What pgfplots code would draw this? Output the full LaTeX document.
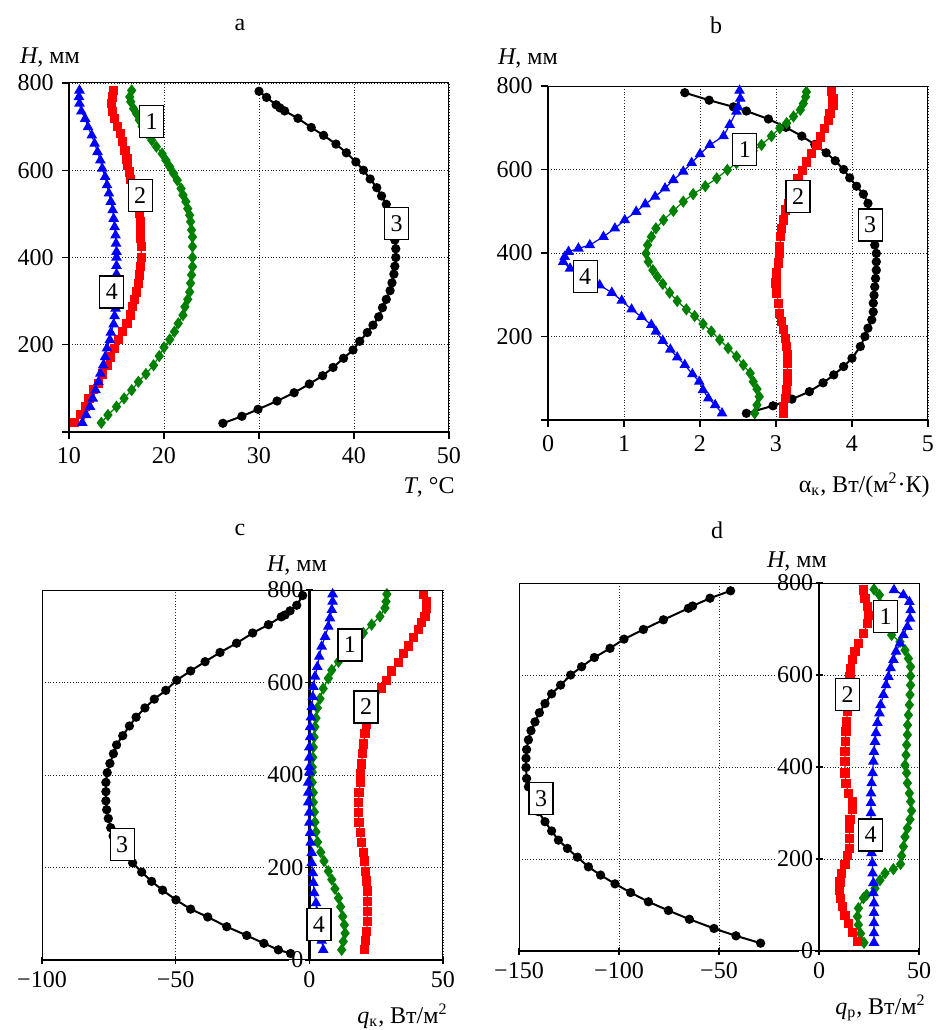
\documentclass[border=0pt,12pt]{standalone}
\usepackage{fontspec}
\setmainfont{Liberation Serif}
\usepackage{pgfplots}
\pgfplotsset{compat=1.18}

\definecolor{cgreen}{RGB}{0,128,0}

\pgfplotsset{
  panel/.style={
    scale only axis, clip=false, anchor=south west,
    ymin=0, ymax=800, ytick={0,200,...,800},
    grid=major, grid style={densely dotted, black!85, line width=0.45pt},
    tick align=outside, major tick length=3.5pt,
    tick style={black, line width=0.6pt},
    /pgf/number format/assume math mode=true,
  },
  boxpanel/.style={panel, tick pos=left, axis line style={line width=0.5pt},
    yticklabels={,200,400,600,800}},
  midpanel/.style={panel, axis lines=middle, axis line style={-, line width=1.3pt},
    hide obscured x ticks=false, hide obscured y ticks=false,
    yticklabel style={fill=white, inner sep=1pt},
    extra x ticks={0}, extra x tick labels={},
    extra x tick style={grid=major, grid style={solid, black, line width=1.3pt}}},
  s1/.style={cgreen, line width=0.6pt, mark=diamond*, mark size=2.6pt},
  s2/.style={red, line width=0.6pt, mark=square*, mark size=2.0pt},
  s3/.style={black, line width=1pt, mark=*, mark size=1.8pt},
  s4/.style={blue, line width=0.6pt, mark=triangle*, mark size=2.5pt},
}
\tikzset{lab/.style={draw, fill=white, line width=0.6pt, inner sep=1.5pt,
  minimum height=16pt, minimum width=12pt}}

\begin{document}
\begin{tikzpicture}
\path[use as bounding box] (0,0) rectangle (471.5pt,515pt);

% ---------- a ----------
\begin{axis}[boxpanel, name=pa, at={(34.5pt,299pt)}, width=190pt, height=174.5pt,
  xmin=10, xmax=50, xtick={10,20,...,50}]
\addplot[s3] coordinates {(26.2,20) (28.2,36) (29.9,52) (31.9,71) (33.7,90) (35.3,110) (36.7,129) (37.8,148) (38.9,169) (39.9,188) (40.6,208) (41.4,228) (42.0,245) (42.6,264) (43.0,285) (43.4,304) (43.8,324) (44.0,342) (44.2,362) (44.3,380) (44.4,400) (44.4,420) (44.3,440) (44.1,460) (44.0,480) (43.8,501) (43.4,522) (42.9,541) (42.4,560) (41.7,580) (41.0,600) (40.2,619) (39.2,640) (38.1,660) (36.8,680) (35.5,698) (34.1,719) (32.7,736) (32.2,743) (31.8,750) (30.8,767) (30.0,781)};
\addplot[s1] coordinates {(13.4,21) (14.1,39) (15.0,58) (15.8,77) (16.6,96) (17.3,115) (18.1,133) (18.9,153) (19.5,174) (20.0,194) (20.6,212) (21.1,230) (21.5,249) (22.0,268) (22.2,287) (22.5,304) (22.7,321) (22.8,341) (22.9,360) (23.0,379) (23.0,400) (23.0,425) (23.0,447) (22.9,463) (22.8,482) (22.7,497) (22.5,512) (22.3,528) (22.0,543) (21.8,558) (21.4,577) (21.0,593) (20.6,608) (20.2,623) (19.8,638) (19.2,654) (18.7,669) (18.2,685) (17.7,700) (17.4,715) (17.1,730) (16.8,741) (16.5,757) (16.4,768) (16.6,783)};
\addplot[s2] coordinates {(10.6,21) (11.2,40) (11.7,59) (12.1,77) (12.6,97) (13.1,112) (13.5,133) (14.0,153) (14.4,172) (14.8,191) (15.2,212) (15.65,230) (16.1,249) (16.5,268) (16.7,287) (16.9,304) (17.1,321) (17.3,341) (17.4,360) (17.5,380) (17.6,400) (17.6,425) (17.5,444) (17.5,463) (17.5,482) (17.4,501) (17.3,516) (17.0,540) (16.7,560) (16.5,578) (16.4,596) (16.2,611) (16.1,626) (15.9,646) (15.65,665) (15.4,684) (15.1,701) (14.8,718) (14.6,734) (14.5,753) (14.6,768) (14.67,783)};
\addplot[s4] coordinates {(11.4,21) (11.8,39) (12.2,58) (12.5,77) (12.8,96) (13.1,115) (13.3,134) (13.6,153) (13.8,172) (14.0,192) (14.3,211) (14.4,228) (14.7,247) (14.8,266) (14.9,283) (14.9,302) (14.9,320) (15.0,340) (15.0,362) (15.0,381) (15.0,400) (15.0,413) (14.95,432) (14.9,451) (14.8,470) (14.7,489) (14.6,509) (14.4,528) (14.2,547) (14.0,566) (13.8,585) (13.5,604) (13.3,623) (13.0,642) (12.7,661) (12.4,680) (12.0,699) (11.7,718) (11.3,735) (11.1,753) (11.05,768) (11.1,783)};
\coordinate (a1) at (axis cs:18.7,711);
\coordinate (a2) at (axis cs:17.5,543);
\coordinate (a3) at (axis cs:44.5,478);
\coordinate (a4) at (axis cs:14.5,321);
\end{axis}

% ---------- b ----------
\begin{axis}[boxpanel, name=pb, at={(274pt,305pt)}, width=190pt, height=167pt,
  xmin=0, xmax=5, xtick={0,1,...,5}]
\addplot[s3] coordinates {(2.61,16) (2.96,34) (3.21,50) (3.44,68) (3.62,89) (3.76,108) (3.89,128) (4.00,148) (4.11,176) (4.17,200) (4.21,220) (4.26,240) (4.28,259) (4.28,280) (4.29,299) (4.30,319) (4.31,339) (4.32,359) (4.32,379) (4.32,399) (4.30,419) (4.28,447) (4.27,465) (4.24,490) (4.21,519) (4.15,541) (4.06,560) (3.97,580) (3.89,600) (3.78,621) (3.66,640) (3.51,660) (3.34,680) (3.13,701) (2.90,721) (2.61,740) (2.44,750) (2.12,766) (1.80,784)};
\addplot[s1] coordinates {(2.72,16) (2.75,36) (2.78,56) (2.75,74) (2.70,92) (2.66,112) (2.57,132) (2.48,152) (2.37,172) (2.26,192) (2.15,212) (2.04,230) (1.93,249) (1.82,265) (1.70,285) (1.60,305) (1.51,326) (1.44,343) (1.38,359) (1.32,379) (1.29,399) (1.31,419) (1.36,439) (1.42,459) (1.52,479) (1.65,501) (1.78,523) (1.91,541) (2.07,560) (2.22,579) (2.36,599) (2.48,615) (2.60,630) (2.70,645) (2.81,659) (2.94,680) (3.05,699) (3.14,711) (3.23,727) (3.32,743) (3.36,758) (3.39,774) (3.40,786)};
\addplot[s2] coordinates {(3.10,16) (3.10,32) (3.12,52) (3.14,72) (3.15,92) (3.15,112) (3.15,136) (3.15,156) (3.14,176) (3.12,196) (3.10,216) (3.07,236) (3.05,256) (3.03,280) (3.01,304) (3.00,328) (3.01,352) (3.03,376) (3.05,400) (3.05,415) (3.06,439) (3.07,459) (3.10,479) (3.13,503) (3.16,519) (3.22,548) (3.29,578) (3.35,598) (3.40,618) (3.47,638) (3.54,658) (3.59,678) (3.64,698) (3.69,718) (3.71,734) (3.75,754) (3.75,770) (3.73,786)};
\addplot[s4] coordinates {(2.29,16) (2.20,36) (2.11,52) (2.04,72) (1.99,92) (1.90,110) (1.80,132) (1.70,150) (1.61,169) (1.51,190) (1.42,212) (1.36,228) (1.23,247) (1.10,265) (0.97,286) (0.84,305) (0.68,323) (0.50,340) (0.29,363) (0.20,379) (0.22,391) (0.27,403) (0.40,411) (0.55,419) (0.73,439) (0.88,459) (1.01,479) (1.16,499) (1.28,517) (1.41,535) (1.54,555) (1.65,575) (1.78,595) (1.89,616) (2.00,637) (2.13,659) (2.31,680) (2.39,707) (2.48,739) (2.50,750) (2.53,770) (2.52,789)};
\coordinate (b1) at (axis cs:2.59,647);
\coordinate (b2) at (axis cs:3.29,535);
\coordinate (b3) at (axis cs:4.24,467);
\coordinate (b4) at (axis cs:0.49,343);
\end{axis}

% ---------- c ----------
\begin{axis}[midpanel, name=pc, at={(21pt,35pt)}, width=200.5pt, height=185pt,
  xmin=-100, xmax=50, xtick={-100,-50,0,50}, xticklabels={−100,−50,0,50}]
\addplot[s3] coordinates {(-7,14) (-11.6,22) (-17.0,36) (-23.4,53) (-30.9,72) (-38.0,93) (-44.4,110) (-49.9,130) (-54.9,151) (-59.0,170) (-62.7,190) (-66.1,210) (-69.5,230) (-72.0,250) (-73.4,268) (-74.3,286) (-75.2,306) (-75.8,325) (-76.1,344) (-76.1,364) (-76.1,384) (-75.6,405) (-74.6,425) (-73.3,446) (-72.1,465) (-69.8,485) (-67.3,506) (-64.8,525) (-61.5,545) (-58.0,564) (-53.7,583) (-49.6,605) (-44.4,625) (-39.0,645) (-33.4,665) (-27.2,685) (-21.2,707) (-15.3,725) (-10.5,742) (-9.1,746) (-7.2,755) (-4.7,767) (-2.5,788)};
\addplot[s1] coordinates {(12.1,22) (12.7,40) (13.4,58) (13.1,76) (12.5,94) (11.7,115) (10.9,134) (9.6,154) (8.4,174) (7.1,192) (5.5,214) (4.3,233) (3.1,255) (2.5,277) (2.1,298) (1.9,320) (1.5,341) (1.5,362) (1.1,384) (1.1,406) (1.1,417) (1.3,438) (1.5,460) (1.8,482) (2.1,504) (2.5,523) (3.0,545) (4.0,565) (5.2,587) (7.1,609) (8.4,627) (10.9,645) (14.0,664) (17.0,686) (20.2,707) (23.3,725) (26.4,743) (28.3,761) (28.7,775) (29.0,791)};
\addplot[s2] coordinates {(20.5,22) (21.1,42) (21.5,62) (21.7,84) (21.7,105) (21.7,127) (21.7,149) (21.5,171) (21.1,192) (20.5,214) (20.2,232) (19.6,254) (19.0,275) (18.6,297) (18.3,319) (18.3,341) (18.6,362) (19.0,384) (19.2,404) (19.6,424) (19.8,446) (20.2,467) (20.8,489) (21.5,509) (23.5,548) (27.1,588) (29.0,604) (30.8,625) (33.3,643) (35.2,662) (37.0,679) (38.9,698) (40.8,714) (42.0,729) (43.3,743) (43.9,761) (43.7,775) (42.7,791)};
\addplot[s4] coordinates {(5.2,22) (4.6,42) (4.0,63) (3.2,84) (2.8,104) (2.5,123) (1.8,145) (1.5,167) (1.3,188) (0.9,210) (0.9,232) (0.5,254) (0.3,275) (0.0,297) (0.0,319) (-0.4,341) (-0.4,362) (-0.4,384) (0.0,406) (0.0,417) (0.0,438) (0.0,460) (0.3,482) (0.3,504) (0.6,525) (0.9,547) (1.3,569) (1.5,591) (2.1,613) (3.0,634) (3.7,656) (4.6,678) (5.9,699) (7.1,721) (7.7,739) (8.4,757) (8.7,775) (8.7,791)};
\coordinate (c1) at (axis cs:15.2,681);
\coordinate (c2) at (axis cs:21.2,547);
\coordinate (c3) at (axis cs:-70,250);
\coordinate (c4) at (axis cs:3.6,76);
\end{axis}

% ---------- d ----------
\begin{axis}[midpanel, name=pd, at={(259.5pt,39.5pt)}, width=200pt, height=184pt,
  xmin=-150, xmax=50, xtick={-150,-100,-50,0,50}, xticklabels={−150,−100,−50,0,50}]
\addplot[s3] coordinates {(-29.2,17) (-41.5,33) (-52.5,49) (-64.8,69) (-75.3,88) (-85.3,107) (-94.2,127) (-102,146) (-109.2,165) (-115.3,183) (-120.8,204) (-125.8,223) (-130.3,241) (-133.7,261) (-137,281) (-140.3,303) (-143,330) (-145.3,357) (-146.2,375) (-146.5,399) (-146.5,419) (-146.2,438) (-145.3,459) (-144,479) (-142,498) (-139.8,518) (-137,538) (-133.7,559) (-129.2,578) (-124.2,600) (-118.7,618) (-112.3,638) (-104.5,658) (-97.5,678) (-87.8,699) (-77.8,720) (-65.3,745) (-63.2,750) (-54.5,767) (-44.2,783)};
\addplot[s1] coordinates {(22.5,18) (20.8,38) (19.7,57) (19.2,75) (19.7,93) (22.2,115) (23.8,122) (28,136) (30.5,154) (33,169) (37.2,178) (40.8,189) (41.3,207) (42.2,227) (43,248) (44.2,267) (45.5,286) (46.3,305) (45.8,325) (45.2,343) (44.2,365) (43.8,387) (43,404) (43.5,426) (43.8,448) (44.2,470) (44.3,491) (44.7,513) (45.2,535) (45.5,557) (45.8,578) (45.8,598) (45.8,618) (44.7,636) (43,654) (40.5,672) (36.3,687) (35,708) (33.5,730) (32,750) (30.2,774) (27.5,786)};
\addplot[s2] coordinates {(19.2,20) (16.8,41) (14.7,60) (13,78) (11.8,96) (10.8,114) (10.2,132) (10.5,150) (11.3,168) (13,188) (14.2,207) (15.2,223) (15.2,245) (15.2,267) (15.5,286) (16.8,307) (16.8,325) (14.7,343) (13.5,365) (13,387) (13,412) (13,433) (13.2,455) (13.5,477) (13.8,498) (14.2,520) (14.8,558) (15.5,596) (15.8,615) (16.8,633) (18,651) (19.7,669) (22.2,690) (24.2,712) (24.7,730) (24.2,749) (23,767) (22.2,785)};
\addplot[s4] coordinates {(27.5,18) (27.5,39) (27.5,61) (27.5,83) (27.5,104) (27.2,126) (27.2,148) (26.8,169) (26.7,191) (26.3,213) (26.2,235) (26.1,257) (26,278) (26,300) (26,322) (26,343) (26.3,365) (26.8,387) (27.2,412) (27.5,433) (28,455) (28.5,474) (29.2,496) (30.2,517) (30.8,535) (32.2,557) (33.5,578) (34.7,596) (35.8,615) (37.2,633) (38.5,651) (40.5,669) (42.2,687) (44.2,705) (45.5,723) (45.8,741) (45.2,759) (42.2,774) (37.5,785)};
\coordinate (d1) at (axis cs:33.3,727);
\coordinate (d2) at (axis cs:14.3,557);
\coordinate (d3) at (axis cs:-139,332);
\coordinate (d4) at (axis cs:25.8,252);
\end{axis}

% frames and thick axis lines over the curves
\draw[line width=1.3pt] (pa.north west) -- (pa.south west) -- (pa.south east);
\draw[line width=1.3pt] (pb.north west) -- (pb.south west) -- (pb.south east);
\draw[line width=0.5pt] (pc.south west) rectangle (pc.north east);
\draw[line width=0.5pt] (pd.south west) rectangle (pd.north east);

% curve numbers
\foreach \p in {a,b,c,d}{
  \node[lab] at (\p1) {1};
  \node[lab] at (\p2) {2};
  \node[lab] at (\p3) {3};
  \node[lab] at (\p4) {4};
}

% titles and axis names
\node at (120pt,502.5pt) {a};
\node at (358pt,502.5pt) {b};
\node at (120pt,250pt) {c};
\node at (358.5pt,250pt) {d};
\node at (25pt,486.5pt) {\textit{H}, мм};
\node at (264pt,486pt) {\textit{H}, мм};
\node at (148.5pt,232.5pt) {\textit{H}, мм};
\node at (398.5pt,234.5pt) {\textit{H}, мм};
\node[anchor=east] at (231.5pt,271.5pt) {\textit{T}, °C};
\node[anchor=east] at (469pt,272.5pt) {α\textsubscript{к}, Вт/(м\textsuperscript{2}·К)};
\node[anchor=east] at (228pt,7pt) {\textit{q}\textsubscript{к}, Вт/м\textsuperscript{2}};
\node[anchor=east] at (467pt,11pt) {\textit{q}\textsubscript{р}, Вт/м\textsuperscript{2}};
\end{tikzpicture}
\end{document}
